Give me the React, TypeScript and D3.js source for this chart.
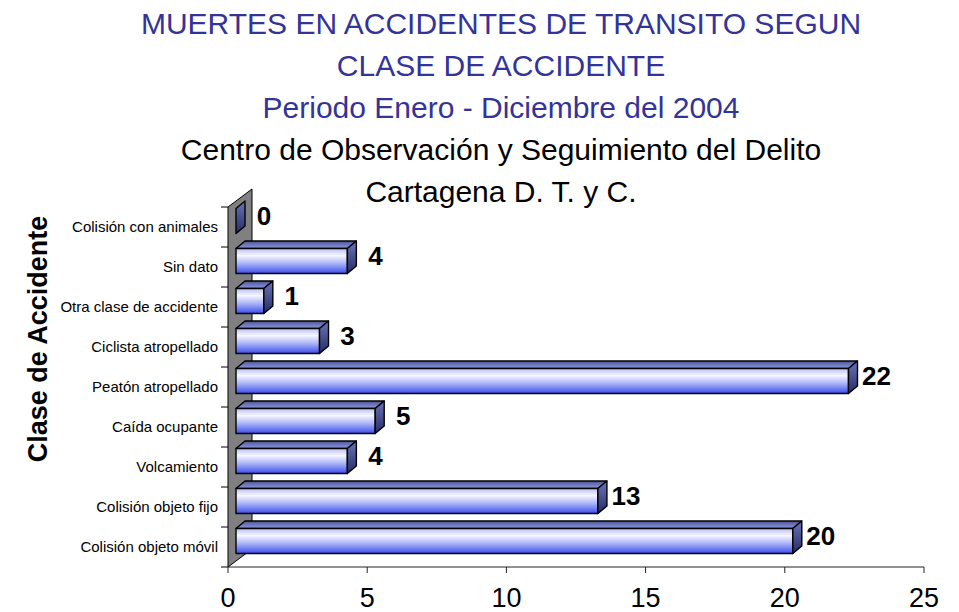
import React from "react";
import * as d3 from "d3";

const categories = [
  "Colisión con animales",
  "Sin dato",
  "Otra clase de accidente",
  "Ciclista atropellado",
  "Peatón atropellado",
  "Caída ocupante",
  "Volcamiento",
  "Colisión objeto fijo",
  "Colisión objeto móvil",
];
const deaths = [0, 4, 1, 3, 22, 5, 4, 13, 20];
const xTicks = [0, 5, 10, 15, 20, 25];

const titleLines = [
  { text: "MUERTES EN ACCIDENTES DE TRANSITO SEGUN", color: "#333399" },
  { text: "CLASE DE ACCIDENTE", color: "#333399" },
  { text: "Periodo Enero - Diciembre del 2004", color: "#333399" },
  { text: "Centro de Observación y Seguimiento del Delito", color: "#000" },
  { text: "Cartagena D. T. y C.", color: "#000" },
];

const W = 959;
const H = 612;
const font = "'Liberation Sans', Arial, sans-serif";

// oblique depth of the 3D plot
const wallDx = 24;
const wallDy = 18;
const barOffX = 8;
const barOffY = 6;
const barDx = 9;
const barDy = 7.5;

const App = () => {
  const x = d3.scaleLinear().domain([0, 25]).range([228, 924]);
  const y = d3
    .scaleBand<string>()
    .domain(categories)
    .range([207, 567])
    .paddingInner(0.375)
    .paddingOuter(0.1875);
  const step = y.step();
  const bw = y.bandwidth();
  const top = 207;
  const bottom = 567;
  const x0 = x(0);

  const wall = [
    [x0, top],
    [x0 + wallDx, top - wallDy],
    [x0 + wallDx, bottom - wallDy],
    [x0, bottom],
  ]
    .map((p) => p.join(","))
    .join(" ");

  return (
    <div style={{ position: "absolute", left: 0, top: 0 }}>
      <svg width={W} height={H} style={{ display: "block", background: "#fff" }}>
        <defs>
          <linearGradient id="front" x1="0" y1="0" x2="0" y2="1">
            <stop offset="0%" stopColor="#b9c0f4" />
            <stop offset="28%" stopColor="#f6f6ff" />
            <stop offset="60%" stopColor="#aab4f6" />
            <stop offset="100%" stopColor="#3a4cee" />
          </linearGradient>
          <linearGradient id="topFace" x1="0" y1="0" x2="0" y2="1">
            <stop offset="0%" stopColor="#4d5596" />
            <stop offset="100%" stopColor="#8e99e0" />
          </linearGradient>
          <linearGradient id="sideFace" x1="0" y1="0" x2="0" y2="1">
            <stop offset="0%" stopColor="#6a74b8" />
            <stop offset="100%" stopColor="#262c66" />
          </linearGradient>
        </defs>

        {/* titles */}
        {titleLines.map((t, i) => (
          <text
            key={i}
            x={501}
            y={34 + i * 42}
            textAnchor="middle"
            fontFamily={font}
            fontSize={30}
            fill={t.color}
          >
            {t.text}
          </text>
        ))}

        {/* side wall */}
        <polygon points={wall} fill="#808080" stroke="#000" strokeWidth={1} />

        {/* category ticks */}
        {d3.range(categories.length + 1).map((i) => (
          <line
            key={i}
            x1={x0 - 7}
            x2={x0}
            y1={top + i * step}
            y2={top + i * step}
            stroke="#000"
            strokeWidth={1}
          />
        ))}

        {/* value axis */}
        <line x1={x0} x2={x(25)} y1={bottom} y2={bottom} stroke="#222" strokeWidth={1} />
        {xTicks.map((t) => (
          <g key={t}>
            <line x1={x(t)} x2={x(t)} y1={bottom} y2={bottom + 6} stroke="#222" strokeWidth={1} />
            <text
              x={x(t)}
              y={607}
              textAnchor="middle"
              fontFamily={font}
              fontSize={27}
              fill="#000"
            >
              {t}
            </text>
          </g>
        ))}

        {/* bars */}
        {categories.map((c, i) => {
          const v = deaths[i];
          const bx0 = x0 + barOffX;
          const bx1 = bx0 + (x(v) - x0);
          const by = (y(c) as number) - barOffY;
          const by1 = by + bw;
          const topPts = [
            [bx0, by],
            [bx0 + barDx, by - barDy],
            [bx1 + barDx, by - barDy],
            [bx1, by],
          ];
          const sidePts = [
            [bx1, by],
            [bx1 + barDx, by - barDy],
            [bx1 + barDx, by1 - barDy],
            [bx1, by1],
          ];
          return (
            <g key={c} stroke="#000" strokeWidth={1.4} strokeLinejoin="round">
              {v > 0 && (
                <polygon points={topPts.map((p) => p.join(",")).join(" ")} fill="url(#topFace)" />
              )}
              {v > 0 && <rect x={bx0} y={by} width={bx1 - bx0} height={bw} fill="url(#front)" />}
              <polygon points={sidePts.map((p) => p.join(",")).join(" ")} fill="url(#sideFace)" />
            </g>
          );
        })}

        {/* category labels */}
        {categories.map((c) => (
          <text
            key={c}
            x={218}
            y={(y(c) as number) + bw / 2 + 5}
            textAnchor="end"
            fontFamily={font}
            fontSize={15}
            fill="#000"
          >
            {c}
          </text>
        ))}

        {/* value labels */}
        {categories.map((c, i) => (
          <text
            key={c}
            x={x(deaths[i]) + 36}
            y={(y(c) as number) + bw / 2 - 2}
            textAnchor="middle"
            fontFamily={font}
            fontSize={26}
            fontWeight="bold"
            fill="#000"
          >
            {deaths[i]}
          </text>
        ))}

        {/* axis title */}
        <text
          transform={`translate(47,339) rotate(-90)`}
          textAnchor="middle"
          fontFamily={font}
          fontSize={27}
          fontWeight="bold"
          fill="#000"
        >
          Clase de Accidente
        </text>
      </svg>
    </div>
  );
};

export default App;
